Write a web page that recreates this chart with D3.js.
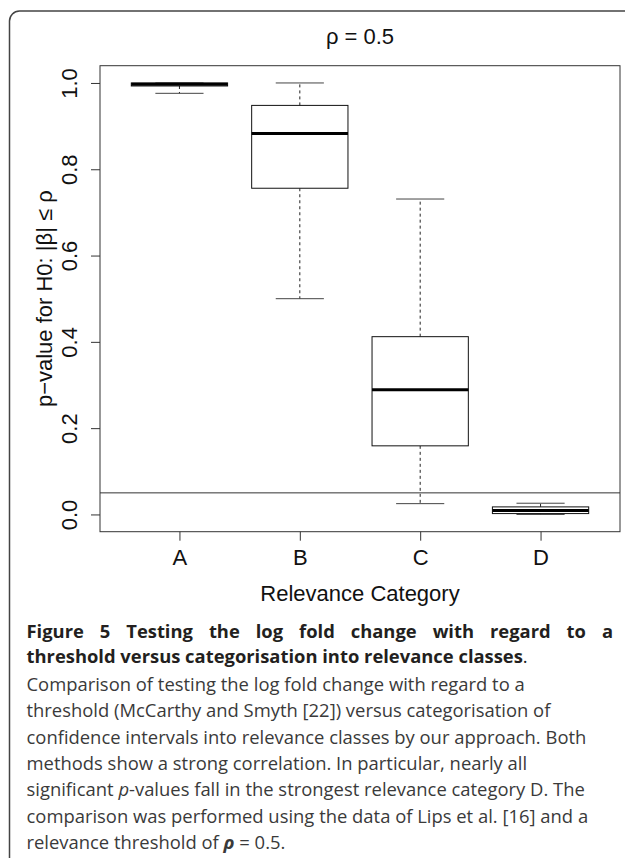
<!DOCTYPE html>
<html>
<head>
<meta charset="utf-8">
<script src="https://cdn.jsdelivr.net/npm/d3@7"></script>
<style>
  body { margin: 0; background: #fff; }
  svg { display: block; }
</style>
</head>
<body>
<script>
// Boxplot data:
var categories = ["A", "B", "C", "D"];
var whiskLo = [0.976, 0.500, 0.025, 0.000];
var q1      = [0.993, 0.756, 0.159, 0.002];
var medians = [0.997, 0.883, 0.289, 0.009];
var q3      = [1.000, 0.948, 0.412, 0.0175];
var whiskHi = [1.000, 1.000, 0.731, 0.026];
var yTicks = [0.0, 0.2, 0.4, 0.6, 0.8, 1.0];
var threshold = 0.05;

// Texts:
var mainTitle = "\u03c1 = 0.5";
var xTitle = "Relevance Category";
var yTitle = "p\u2212value for H0: |\u03b2| \u2264 \u03c1";
var boldLine1 = "Figure 5 Testing the log fold change with regard to a";
var boldLine2 = "threshold versus categorisation into relevance classes";
// caption lines as segments: [text, style]  (style "i" = italic)
var captionLines = [
  [["Comparison of testing the log fold change with regard to a", ""]],
  [["threshold (McCarthy and Smyth [22]) versus categorisation of", ""]],
  [["confidence intervals into relevance classes by our approach. Both", ""]],
  [["methods show a strong correlation. In particular, nearly all", ""]],
  [["significant ", ""], ["p", "i"], ["-values fall in the strongest relevance category D. The", ""]],
  [["comparison was performed using the data of Lips et al. [16] and a", ""]],
  [["relevance threshold of ", ""], ["\u03c1", "bi"], [" = 0.5.", ""]]
];

// SVG size:
var w_svg = 625;
var h_svg = 858;

// plot region:
var pLeft = 100, pRight = 620, pTop = 65.7, pBottom = 531.7;

var svg = d3.select("body")
  .append("svg")
  .attr("width", w_svg)
  .attr("height", h_svg);

var chartFont = "'Liberation Sans', Arial, sans-serif";
var capFont = "'Open Sans', sans-serif";

// outer frame with rounded top-left corner
svg.append("path")
  .attr("d", "M9.5,880 V21 A10,10 0 0 1 19.5,11 H640")
  .attr("fill", "none")
  .attr("stroke", "#444")
  .attr("stroke-width", 1.5);

// Scales (R style: 4% padding round the range):
var xScale = d3.scaleLinear().domain([0.34, 4.66]).range([pLeft, pRight]);
var yScale = d3.scaleLinear().domain([-0.04, 1.04]).range([pBottom, pTop]);

var idx = d3.range(categories.length);

// threshold line
svg.append("line")
  .attr("x1", pLeft).attr("x2", pRight)
  .attr("y1", yScale(threshold)).attr("y2", yScale(threshold))
  .attr("stroke", "#333").attr("stroke-width", 1);

// whiskers (dashed):
var g = svg.append("g");
g.selectAll("line.whiskU").data(idx).enter().append("line")
  .attr("x1", function(i) { return xScale(i + 1); })
  .attr("x2", function(i) { return xScale(i + 1); })
  .attr("y1", function(i) { return yScale(q3[i]); })
  .attr("y2", function(i) { return yScale(whiskHi[i]); })
  .attr("stroke", "#222").attr("stroke-dasharray", "3,3");
g.selectAll("line.whiskL").data(idx).enter().append("line")
  .attr("x1", function(i) { return xScale(i + 1); })
  .attr("x2", function(i) { return xScale(i + 1); })
  .attr("y1", function(i) { return yScale(q1[i]); })
  .attr("y2", function(i) { return yScale(whiskLo[i]); })
  .attr("stroke", "#222").attr("stroke-dasharray", "3,3");

// staples:
[whiskLo, whiskHi].forEach(function(arr) {
  g.selectAll(null).data(idx).enter().append("line")
    .attr("x1", function(i) { return xScale(i + 1 - 0.2); })
    .attr("x2", function(i) { return xScale(i + 1 + 0.2); })
    .attr("y1", function(i) { return yScale(arr[i]); })
    .attr("y2", function(i) { return yScale(arr[i]); })
    .attr("stroke", "#444").attr("stroke-width", 1);
});

// boxes:
g.selectAll("rect.box").data(idx).enter().append("rect")
  .attr("x", function(i) { return xScale(i + 1 - 0.4); })
  .attr("width", function(i) { return xScale(i + 1 + 0.4) - xScale(i + 1 - 0.4); })
  .attr("y", function(i) { return yScale(q3[i]); })
  .attr("height", function(i) { return yScale(q1[i]) - yScale(q3[i]); })
  .attr("fill", "#fff")
  .attr("stroke", "#111").attr("stroke-width", 1);

// medians:
g.selectAll("line.med").data(idx).enter().append("line")
  .attr("x1", function(i) { return xScale(i + 1 - 0.4); })
  .attr("x2", function(i) { return xScale(i + 1 + 0.4); })
  .attr("y1", function(i) { return yScale(medians[i]); })
  .attr("y2", function(i) { return yScale(medians[i]); })
  .attr("stroke", "#000").attr("stroke-width", 3);

// plot box
svg.append("rect")
  .attr("x", pLeft).attr("y", pTop)
  .attr("width", pRight - pLeft).attr("height", pBottom - pTop)
  .attr("fill", "none").attr("stroke", "#333").attr("stroke-width", 1);

// y axis:
var y_axis = d3.axisLeft(yScale).tickValues(yTicks).tickSize(9)
  .tickFormat(d3.format(".1f"));
var gy = svg.append("g").attr("transform", "translate(" + pLeft + ",0)").call(y_axis);
gy.select(".domain").remove();
gy.selectAll("line").attr("stroke", "#333");
gy.selectAll("text")
  .attr("transform", "rotate(-90)")
  .attr("x", 0).attr("y", -23).attr("dy", 0)
  .attr("text-anchor", "middle")
  .style("font-family", chartFont).style("font-size", "22px").attr("fill", "#111");

// x axis:
var x_axis = d3.axisBottom(xScale).tickValues([1, 2, 3, 4]).tickSize(9)
  .tickFormat(function(d) { return categories[d - 1]; });
var gx = svg.append("g").attr("transform", "translate(0," + pBottom + ")").call(x_axis);
gx.select(".domain").remove();
gx.selectAll("line").attr("stroke", "#333");
gx.selectAll("text")
  .attr("y", 33).attr("dy", 0)
  .style("font-family", chartFont).style("font-size", "22px").attr("fill", "#111");

// titles:
svg.append("text").text(mainTitle)
  .attr("x", (pLeft + pRight) / 2).attr("y", 43.5)
  .attr("text-anchor", "middle")
  .style("font-family", chartFont).style("font-size", "22px").attr("fill", "#111");
svg.append("text").text(xTitle)
  .attr("x", (pLeft + pRight) / 2).attr("y", 601)
  .attr("text-anchor", "middle")
  .style("font-family", chartFont).style("font-size", "22px").attr("fill", "#111");
svg.append("text").text(yTitle)
  .attr("transform", "translate(52," + ((pTop + pBottom) / 2) + ") rotate(-90)")
  .attr("text-anchor", "middle")
  .style("font-family", chartFont).style("font-size", "22px").attr("fill", "#111");

// caption: fit font sizes to the widths seen in the figure
var capX = 26.5;
function measure(txt, size, weight) {
  var t = svg.append("text").text(txt)
    .style("font-family", capFont).style("font-size", size + "px")
    .style("font-weight", weight);
  var w = t.node().getComputedTextLength();
  t.remove();
  return w;
}
var boldSize = 20 * 496.5 / measure(boldLine2, 20, "bold");
var normSize = 20 * 560.5 / measure(captionLines[2][0][0], 20, "normal");

// bold line 1, justified to the right edge
var w1 = measure(boldLine1, boldSize, "bold");
var nSpaces = boldLine1.split(" ").length - 1;
svg.append("text").text(boldLine1)
  .attr("x", capX).attr("y", 637.5)
  .style("font-family", capFont).style("font-size", boldSize + "px")
  .style("font-weight", "bold")
  .style("word-spacing", ((613 - capX - w1) / nSpaces) + "px")
  .attr("fill", "#231f20");

var t2 = svg.append("text")
  .attr("x", capX).attr("y", 662.5)
  .style("font-family", capFont).style("font-size", boldSize + "px")
  .attr("fill", "#231f20");
t2.append("tspan").text(boldLine2).style("font-weight", "bold");
t2.append("tspan").text(".").style("font-weight", "normal");

var lineY = 691;
var lineStep = 26.3;
captionLines.forEach(function(segs, k) {
  var t = svg.append("text")
    .attr("x", capX).attr("y", lineY + k * lineStep)
    .style("font-family", capFont).style("font-size", normSize + "px")
    .attr("fill", "#3a3a3a");
  segs.forEach(function(s) {
    var ts = t.append("tspan").text(s[0]);
    if (s[1].indexOf("i") >= 0) ts.style("font-style", "italic");
    if (s[1].indexOf("b") >= 0) ts.style("font-weight", "bold");
  });
});
</script>
</body>
</html>
